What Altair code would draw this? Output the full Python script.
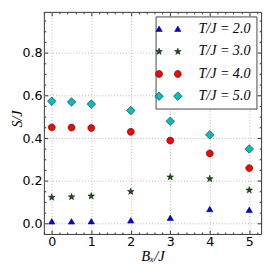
import altair as alt
import pandas as pd

# ---- data ----
bx = [0, 0.5, 1, 2, 3, 4, 5]
s_t2 = [0.008, 0.008, 0.009, 0.013, 0.025, 0.066, 0.062]
s_t3 = [0.123, 0.125, 0.129, 0.150, 0.218, 0.210, 0.157]
s_t4 = [0.451, 0.450, 0.448, 0.430, 0.389, 0.329, 0.260]
s_t5 = [0.573, 0.570, 0.560, 0.530, 0.480, 0.416, 0.350]
temps = ["2.0", "3.0", "4.0", "5.0"]
colors = ["#0000ff", "#0b5e0b", "#ff0000", "#00bfbf"]

x_major = [0, 1, 2, 3, 4, 5]
y_major = [0.0, 0.2, 0.4, 0.6, 0.8]
x_minor = [round(-0.2 + 0.2 * i, 1) for i in range(28)]
y_minor = [round(0.05 * i, 2) for i in range(20)]

rows = []
for t, ser in zip(temps, [s_t2, s_t3, s_t4, s_t5]):
    for b, s in zip(bx, ser):
        rows.append({"Bx": b, "S": s, "T": t})
df = pd.DataFrame(rows)

# ---- marker shapes (pixel units; symbol size 4 -> scale 1) ----
def poly(pts, dx=0.0):
    return "M" + "L".join(f"{x + dx:.2f},{y:.2f}" for x, y in pts) + "Z"

def circ(r, dx=0.0):
    return (f"M{dx - r:.2f},0A{r},{r} 0 1,0 {dx + r:.2f},0"
            f"A{r},{r} 0 1,0 {dx - r:.2f},0Z")

tri = [(0, -3.4), (3.3, 2.3), (-3.3, 2.3)]
star = [(0, -3.6), (0.81, -1.11), (3.42, -1.11), (1.31, 0.42), (2.12, 2.91),
        (0, 1.38), (-2.12, 2.91), (-1.31, 0.42), (-3.42, -1.11), (-0.81, -1.11)]
dia = [(0, -4.4), (4.4, 0), (0, 4.4), (-4.4, 0)]
rc = 3.6

shapes_single = [poly(tri), poly(star), circ(rc), poly(dia)]
sep = 9.65
shapes_double = [poly(tri, -sep) + poly(tri, sep),
                 poly(star, -sep) + poly(star, sep),
                 circ(rc, -sep) + circ(rc, sep),
                 poly(dia, -sep) + poly(dia, sep)]

W, H = 224, 229
xscale = alt.Scale(domain=[-0.2, 5.3], nice=False, zero=False)
yscale = alt.Scale(domain=[-0.0486, 0.9923], nice=False, zero=False)

grid_kw = dict(grid=True, gridDash=[1, 2], gridColor="#b5b5b5", gridWidth=1)

main = alt.Chart(df).mark_point(filled=True, size=4, stroke="black",
                                strokeWidth=0.5, opacity=1).encode(
    x=alt.X("Bx:Q", scale=xscale, axis=alt.Axis(
        orient="bottom", values=x_major, format="d", tickSize=0, domain=False,
        labelFont="DejaVu Sans", labelFontSize=13, labelColor="black",
        labelPadding=2, title="Bₓ/J", titleFont="Liberation Serif",
        titleFontStyle="italic", titleFontWeight="normal", titleFontSize=15,
        titleColor="black", titlePadding=0, **grid_kw)),
    y=alt.Y("S:Q", scale=yscale, axis=alt.Axis(
        orient="left", values=y_major, format=".1f", tickSize=0, domain=False,
        labelFont="DejaVu Sans", labelFontSize=13, labelColor="black",
        labelPadding=2, title="S/J", titleFont="Liberation Serif",
        titleFontStyle="italic", titleFontWeight="normal", titleFontSize=14.5,
        titleColor="black", titleX=-20, titleY=110, titleAngle=270,
        titleAlign="center", titleBaseline="bottom", **grid_kw)),
    color=alt.Color("T:N", scale=alt.Scale(domain=temps, range=colors), legend=None),
    shape=alt.Shape("T:N", scale=alt.Scale(domain=temps, range=shapes_single), legend=None),
)

xmaj_test = "abs(datum.value - round(datum.value)) < 0.01"
ymaj_test = "abs(datum.value*5 - round(datum.value*5)) < 0.01"

def tick_axis(orient, values, test, offset):
    return alt.Axis(orient=orient, values=values, labels=False, domain=False,
                    grid=False, title=None, offset=offset, tickColor="#333333",
                    tickWidth=1,
                    tickSize={"condition": {"test": test, "value": 4}, "value": 2})

ticks_a = alt.Chart(df).mark_point(opacity=0).encode(
    x=alt.X("Bx:Q", scale=xscale, axis=tick_axis("top", x_minor, xmaj_test, -H)),
    y=alt.Y("S:Q", scale=yscale, axis=tick_axis("right", y_minor, ymaj_test, -W)),
)
ticks_b = alt.Chart(df).mark_point(opacity=0).encode(
    x=alt.X("Bx:Q", scale=xscale, axis=tick_axis("bottom", x_minor, xmaj_test, -H)),
    y=alt.Y("S:Q", scale=yscale, axis=tick_axis("left", y_minor, ymaj_test, -W)),
)

legend_layer = alt.Chart(df).transform_filter("false").mark_point(
    filled=True, size=4, opacity=1).encode(
    color=alt.Color("T:N", scale=alt.Scale(domain=temps, range=colors),
                    legend=alt.Legend(
                        title=None, orient="none", legendX=115.2, legendY=4.7,
                        fillColor="white", strokeColor="#444444", padding=6,
                        cornerRadius=0, symbolSize=4, rowPadding=8.0,
                        labelOffset=23.65, labelFont="Liberation Serif",
                        labelFontStyle="italic", labelFontSize=14.5,
                        labelColor="black", symbolStrokeColor="black",
                        symbolStrokeWidth=0.5,
                        labelExpr="'T/J = ' + datum.label")),
    shape=alt.Shape("T:N", scale=alt.Scale(domain=temps, range=shapes_double)),
)

chart = alt.layer(ticks_a, ticks_b, main, legend_layer).resolve_axis(
    x="independent", y="independent"
).resolve_scale(color="independent", shape="independent").properties(
    width=W, height=H,
    autosize=alt.AutoSizeParams(type="none"),
    padding={"left": 37, "top": 0, "right": 4, "bottom": 28},
).configure_view(stroke="#333333", strokeWidth=1)

chart.save("out.html", embed_options={"renderer": "svg", "actions": False})
